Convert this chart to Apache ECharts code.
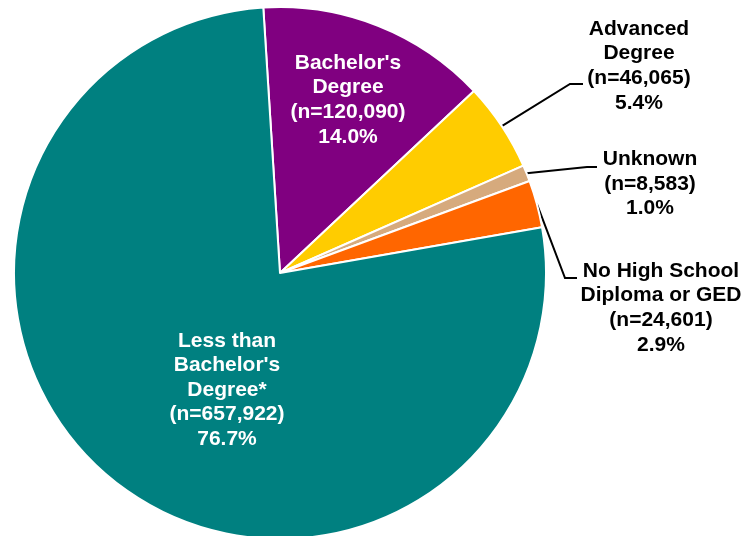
<!DOCTYPE html>
<html>
<head>
<meta charset="utf-8">
<script src="https://cdn.jsdelivr.net/npm/echarts@6/dist/echarts.min.js"></script>
<style>
  html, body { margin: 0; padding: 0; background: #fff; }
  #main { width: 743px; height: 536px; }
</style>
</head>
<body>
<div id="main"></div>
<script>
// data, clockwise from the top
var categories = ["Bachelor's\nDegree", 'Advanced\nDegree', 'Unknown', 'No High School\nDiploma or GED', "Less than\nBachelor's\nDegree*"];
var counts = [120090, 46065, 8583, 24601, 657922];
var colors = ['#800080', '#FFCC00', '#D6AA7D', '#FF6600', '#008080'];
var insideLabel = [true, false, false, false, true];

// where each label sits (label centre) and the leader line bend / end
var labelPlace = [
    {x: 348, y: 100},
    {x: 639, y: 66, line: [[570, 84], [583, 84]]},
    {x: 650, y: 184, line: [[587, 167], [597, 167]]},
    {x: 661, y: 308, line: [[565, 278], [577, 278]]},
    {x: 227, y: 390}
];

var myChart = echarts.init(document.getElementById('main'), null, {renderer: 'canvas'});

var data = [];
for (var i = 0; i < counts.length; i++) {
    data.push({
        name: categories[i],
        value: counts[i],
        itemStyle: {color: colors[i]},
        label: {
            position: insideLabel[i] ? 'inside' : 'outside',
            color: insideLabel[i] ? '#ffffff' : '#000000'
        },
        labelLine: {show: !insideLabel[i]}
    });
}

var option = {
    animation: false,
    series: [{
        type: 'pie',
        center: [280, 273],
        radius: 266,
        startAngle: 93.6,
        clockwise: true,
        avoidLabelOverlap: false,
        percentPrecision: 1,
        itemStyle: {
            borderColor: '#ffffff',
            borderWidth: 2
        },
        label: {
            show: true,
            fontFamily: '"Liberation Sans", Arial, sans-serif',
            fontWeight: 'bold',
            fontSize: 21,
            lineHeight: 24.6,
            width: 180,
            overflow: 'none',
            align: 'center',
            formatter: function (p) {
                return p.name + '\n(n=' + p.value.toLocaleString('en-US') + ')\n' + p.percent.toFixed(1) + '%';
            }
        },
        labelLine: {
            show: true,
            length: 20,
            length2: 10,
            smooth: false,
            lineStyle: {color: '#000000', width: 2}
        },
        labelLayout: function (params) {
            var p = labelPlace[params.dataIndex];
            var out = {x: p.x, y: p.y, align: 'center', verticalAlign: 'middle'};
            if (p.line && params.labelLinePoints) {
                out.labelLinePoints = [params.labelLinePoints[0], p.line[0], p.line[1]];
            }
            return out;
        },
        data: data
    }]
};

myChart.setOption(option);
</script>
</body>
</html>
